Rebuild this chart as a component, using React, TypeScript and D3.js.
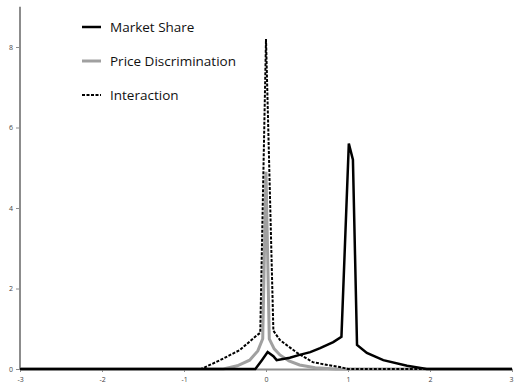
import React, { useEffect, useRef } from 'react';
import * as d3 from 'd3';

// series (x = position, y = density)
const marketX = [-3, -0.13, -0.05, 0.02, 0.09, 0.13, 0.29, 0.41, 0.54, 0.66, 0.82, 0.92, 1.01, 1.06, 1.11, 1.23, 1.43, 1.72, 1.96, 3];
const marketY = [0, 0, 0.22, 0.42, 0.32, 0.22, 0.28, 0.35, 0.42, 0.52, 0.67, 0.8, 5.6, 5.2, 0.6, 0.4, 0.22, 0.08, 0, 0];

const priceX = [-3, -0.52, -0.35, -0.2, -0.1, -0.04, 0, 0.04, 0.1, 0.17, 0.28, 0.41, 0.6, 0.85, 3];
const priceY = [0, 0, 0.08, 0.22, 0.45, 0.75, 4.9, 0.75, 0.5, 0.35, 0.2, 0.1, 0.03, 0, 0];

const interX = [-3, -0.79, -0.56, -0.32, -0.11, -0.07, 0, 0.09, 0.17, 0.38, 0.57, 0.75, 0.9, 1.0, 3];
const interY = [0, 0, 0.22, 0.47, 0.84, 0.9, 8.2, 0.95, 0.72, 0.4, 0.17, 0.1, 0.05, 0, 0];

const xTicks = [-3, -2, -1, 0, 1, 2, 3];
const yTicks = [0, 2, 4, 6, 8];

const seriesNames = ['Market Share', 'Price Discrimination', 'Interaction'];

export default function App() {
  const ref = useRef<SVGSVGElement>(null);

  useEffect(() => {
    const width = 514;
    const height = 386;
    const svg = d3.select(ref.current);
    svg.selectAll('*').remove();

    const x = d3.scaleLinear().domain([-3, 3]).range([20, 512]);
    const y = d3.scaleLinear().domain([0, 9]).range([369, 6.75]);

    const styles = [
      { xs: marketX, ys: marketY, color: '#000', w: 2.5, dash: null },
      { xs: priceX, ys: priceY, color: '#a0a0a0', w: 3, dash: null },
      { xs: interX, ys: interY, color: '#000', w: 2, dash: '3,1.5' },
    ];

    // axes
    const fmt = (d: any) => String(d);
    const yAxis = svg.append('g')
      .attr('transform', `translate(${x(-3)},0)`)
      .call(d3.axisLeft(y).tickValues(yTicks).tickFormat(fmt).tickSize(4).tickPadding(3).tickSizeOuter(0));
    const xAxis = svg.append('g')
      .attr('transform', `translate(0,${y(0)})`)
      .call(d3.axisBottom(x).tickValues(xTicks).tickFormat(fmt).tickSize(3).tickPadding(5).tickSizeOuter(0));

    [yAxis, xAxis].forEach(a => {
      a.select('.domain').attr('stroke', '#8c8c8c').attr('stroke-width', 2);
      a.selectAll('.tick line').attr('stroke', '#8c8c8c');
      a.selectAll('.tick text')
        .attr('fill', '#444')
        .style('font-size', '7px')
        .style('font-family', 'Open Sans, sans-serif');
    });
    // last x label sits at the right edge; keep it inside
    xAxis.selectAll('.tick text').filter((d: any) => d === 3).attr('text-anchor', 'end').attr('dx', 1);
    // y axis reaches above the top tick
    yAxis.select('.domain').attr('d', `M0,${y(0)}V${y(9)}`);

    const line = d3.line<[number, number]>()
      .x(d => x(d[0]))
      .y(d => y(d[1]));

    // draw gray first so the black lines sit on top
    [1, 0, 2].forEach(i => {
      const s = styles[i];
      const pts = s.xs.map((v, k) => [v, s.ys[k]] as [number, number]);
      svg.append('path')
        .attr('d', line(pts))
        .attr('fill', 'none')
        .attr('stroke', s.color)
        .attr('stroke-width', s.w)
        .attr('stroke-linejoin', 'miter')
        .attr('stroke-dasharray', s.dash);
    });

    // legend
    const legend = svg.append('g');
    seriesNames.forEach((name, i) => {
      const s = styles[i];
      const ly = 27 + i * 34;
      legend.append('line')
        .attr('x1', 82).attr('x2', 101)
        .attr('y1', ly).attr('y2', ly)
        .attr('stroke', s.color)
        .attr('stroke-width', s.w)
        .attr('stroke-dasharray', s.dash);
      legend.append('text')
        .attr('x', 110).attr('y', ly + 5)
        .text(name)
        .style('font-size', '13.5px')
        .style('font-family', 'Open Sans, sans-serif')
        .attr('fill', '#111');
    });

    svg.attr('width', width).attr('height', height);
  }, []);

  return (
    <svg ref={ref} width={514} height={386}
      style={{ position: 'absolute', left: 0, top: 0, background: '#fff' }} />
  );
}
